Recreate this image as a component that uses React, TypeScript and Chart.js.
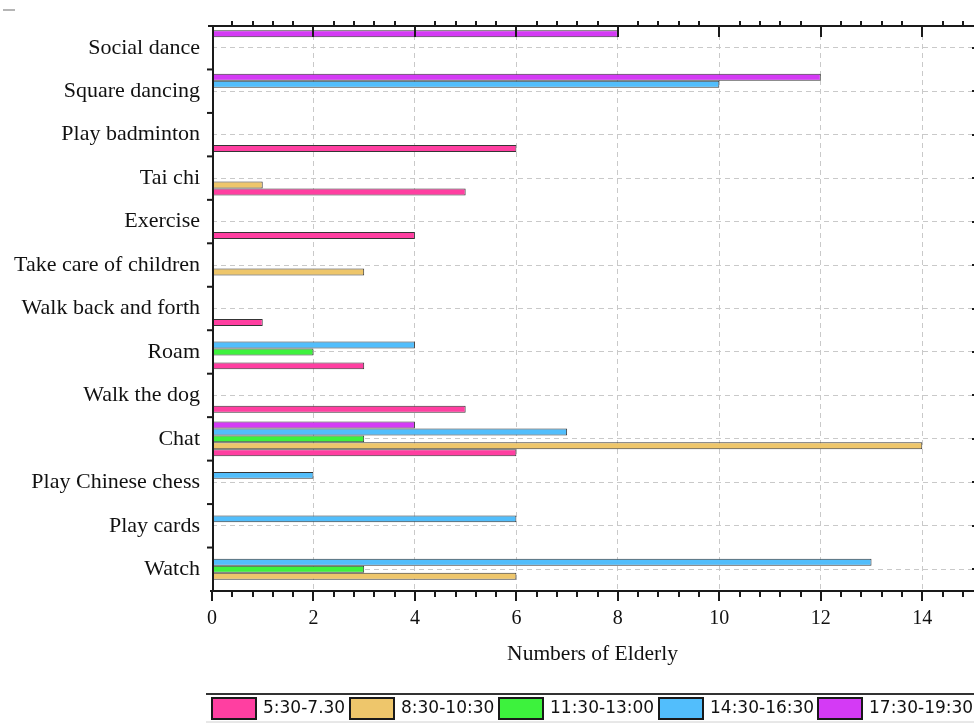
import React, { useEffect, useRef } from 'react';
import { Chart, registerables } from 'chart.js';

Chart.register(...registerables);

// ---- data ----
const categories = [
  'Social dance',
  'Square dancing',
  'Play badminton',
  'Tai chi',
  'Exercise',
  'Take care of children',
  'Walk back and forth',
  'Roam',
  'Walk the dog',
  'Chat',
  'Play Chinese chess',
  'Play cards',
  'Watch',
];

const seriesLabels = ['5:30-7.30', '8:30-10:30', '11:30-13:00', '14:30-16:30', '17:30-19:30'];

const early = [null, null, 6, 5, 4, null, 1, 3, 5, 6, null, null, null];
const morning = [null, null, null, 1, null, 3, null, null, null, 14, null, null, 6];
const noon = [null, null, null, null, null, null, null, 2, null, 3, null, null, 3];
const afternoon = [null, 10, null, null, null, null, null, 4, null, 7, 2, 6, 13];
const evening = [8, 12, null, null, null, null, null, null, null, 4, null, null, null];

const seriesColors = ['#FF3FA1', '#EEC66B', '#3DF23D', '#52BEFC', '#D43AF5'];

const xTickValues = [0, 2, 4, 6, 8, 10, 12, 14];
const xMin = 0;
const xMax = 15;
const axisTitle = 'Numbers of Elderly';

const SERIF = '"Liberation Serif", "Times New Roman", serif';
const SANS = '"DejaVu Sans", sans-serif';

export default function App() {
  const ref = useRef<HTMLCanvasElement>(null);

  useEffect(() => {
    const series = [early, morning, noon, afternoon, evening];
    const drawOrder = [4, 3, 2, 1, 0];
    const datasets = drawOrder.map((i) => ({
      label: seriesLabels[i],
      data: series[i],
      backgroundColor: seriesColors[i],
      borderColor: '#353535',
      borderWidth: 1,
      borderSkipped: false,
      categoryPercentage: 0.8,
      barPercentage: 1,
    }));

    const framePlugin = {
      id: 'frame',
      afterDatasetsDraw(chart: any) {
        const { ctx, chartArea: a, scales } = chart;
        const xs = scales.x;
        const ys = scales.y;
        ctx.save();
        ctx.strokeStyle = '#1a1a1a';
        ctx.lineWidth = 2;
        ctx.lineCap = 'butt';
        const seg = (x1: number, y1: number, x2: number, y2: number) => {
          ctx.beginPath();
          ctx.moveTo(x1, y1);
          ctx.lineTo(x2, y2);
          ctx.stroke();
        };
        // axis lines
        seg(a.left - 4, a.top, a.right + 1, a.top);
        seg(a.left - 2, a.bottom, a.right + 1, a.bottom);
        seg(a.left + 1, a.top, a.left + 1, a.bottom);
        // x ticks (major every 2, minor every 0.4)
        for (let k = 0; k <= 40; k++) {
          const v = k * 0.4;
          if (v > xMax) break;
          const px = Math.round(xs.getPixelForValue(v));
          if (px > a.right) break;
          const major = k % 5 === 0;
          seg(px, a.bottom, px, a.bottom + (major ? 10 : 6));
          if (major) {
            if (k > 0) seg(px, a.top, px, a.top + 11);
          } else {
            seg(px, a.top - 5, px, a.top);
          }
        }
        // y ticks at band boundaries
        for (let i = 1; i < categories.length; i++) {
          const yb = (ys.getPixelForValue(i - 1) + ys.getPixelForValue(i)) / 2;
          seg(a.left - 5, yb, a.left, yb);
        }
        // right side tick stubs at category centres
        ctx.fillStyle = '#1a1a1a';
        for (let i = 0; i < categories.length; i++) {
          const yc = ys.getPixelForValue(i);
          ctx.fillRect(a.right - 1, Math.round(yc) - 1, 2, 2);
        }
        ctx.restore();
      },
      afterDraw(chart: any) {
        const { ctx, width } = chart;
        ctx.save();
        // small grey mark top-left
        ctx.fillStyle = '#b5b5b5';
        ctx.fillRect(3, 9, 12, 2);
        // legend frame
        ctx.strokeStyle = '#333';
        ctx.lineWidth = 2;
        ctx.beginPath();
        ctx.moveTo(206, 694);
        ctx.lineTo(width, 694);
        ctx.stroke();
        ctx.strokeStyle = '#d0d0d0';
        ctx.lineWidth = 1;
        ctx.beginPath();
        ctx.moveTo(206, 722);
        ctx.lineTo(width, 722);
        ctx.stroke();
        // legend items
        const boxX = [211, 349, 498, 658, 817];
        ctx.font = `17px ${SANS}`;
        ctx.textBaseline = 'middle';
        ctx.textAlign = 'left';
        for (let i = 0; i < seriesLabels.length; i++) {
          const bx = boxX[i];
          ctx.fillStyle = seriesColors[i];
          ctx.fillRect(bx, 697, 46, 23);
          ctx.strokeStyle = '#1a1a1a';
          ctx.lineWidth = 2;
          ctx.strokeRect(bx + 1, 698, 44, 21);
          ctx.fillStyle = '#111';
          ctx.fillText(seriesLabels[i], bx + 52, 709);
        }
        ctx.restore();
      },
    };

    const chart = new Chart(ref.current as HTMLCanvasElement, {
      type: 'bar',
      data: { labels: categories, datasets: datasets as any },
      options: {
        indexAxis: 'y',
        responsive: false,
        animation: false,
        layout: { padding: { top: 26, right: 1, left: 0, bottom: 0 } },
        plugins: {
          legend: { display: false },
          tooltip: { enabled: false },
        },
        scales: {
          x: {
            type: 'linear',
            position: 'bottom',
            min: xMin,
            max: xMax,
            afterBuildTicks: (s: any) => {
              s.ticks = xTickValues.map((v) => ({ value: v }));
            },
            afterFit: (s: any) => {
              s.height = 132;
            },
            grid: { color: '#c9c9c9', lineWidth: 1, drawTicks: false },
            border: { display: false, dash: [5, 4] },
            ticks: {
              padding: 16,
              color: '#111',
              font: { family: SERIF, size: 20 },
              maxRotation: 0,
              autoSkip: false,
            },
            title: {
              display: true,
              text: axisTitle,
              color: '#111',
              font: { family: SERIF, size: 21.5 },
              padding: { top: 0, bottom: 56 },
            },
          },
          y: {
            type: 'category',
            position: 'left',
            offset: true,
            afterFit: (s: any) => {
              s.width = 212;
            },
            grid: { offset: false, color: '#c9c9c9', lineWidth: 1, drawTicks: false },
            border: { display: false, dash: [5, 4] },
            ticks: {
              padding: 12,
              color: '#111',
              font: { family: SERIF, size: 22 },
              autoSkip: false,
            },
          },
        },
      } as any,
      plugins: [framePlugin],
    });

    return () => chart.destroy();
  }, []);

  return (
    <canvas
      ref={ref}
      width={974}
      height={723}
      style={{ position: 'absolute', left: 0, top: 0, display: 'block' }}
    />
  );
}
